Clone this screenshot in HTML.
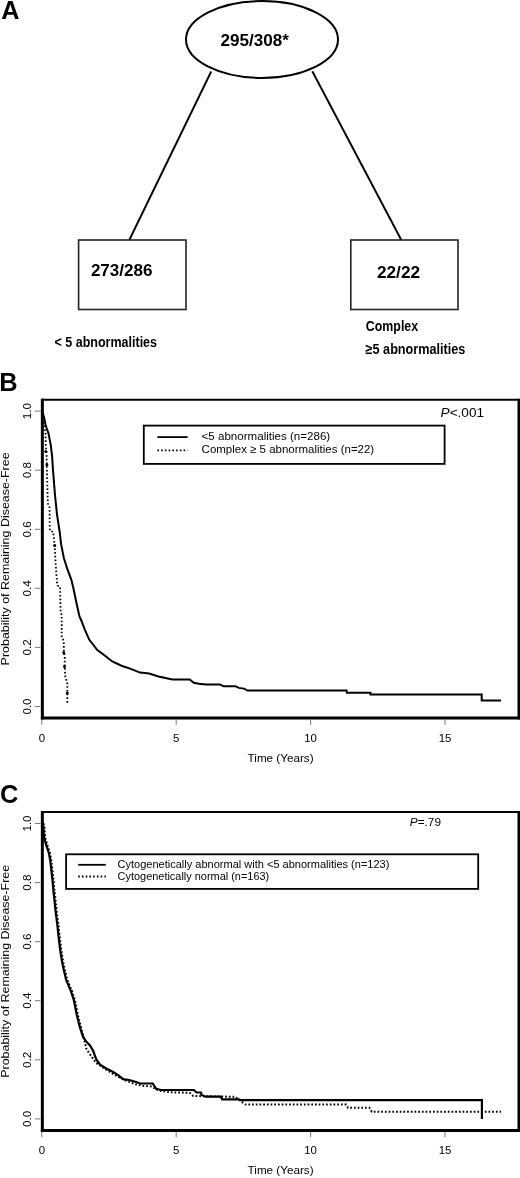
<!DOCTYPE html>
<html><head><meta charset="utf-8"><title>Figure</title>
<style>html,body{margin:0;padding:0;background:#fff;width:520px;height:1178px;overflow:hidden}svg{display:block}</style>
</head><body>
<svg width="520" height="1178" viewBox="0 0 520 1178" font-family="'Liberation Sans', Arial, sans-serif">
<rect width="520" height="1178" fill="#fff"/>
<text x="1.3" y="18.8" font-size="25.4" font-weight="bold" textLength="18.2" lengthAdjust="spacingAndGlyphs">A</text>
<ellipse cx="262" cy="39.5" rx="76" ry="38.4" fill="none" stroke="#000" stroke-width="2"/>
<text x="220.6" y="45.8" font-size="16.3" font-weight="bold" textLength="68.4" lengthAdjust="spacingAndGlyphs">295/308*</text>
<line x1="211.2" y1="71.5" x2="129.3" y2="240" stroke="#000" stroke-width="1.9"/>
<line x1="312.3" y1="71.3" x2="401.3" y2="240" stroke="#000" stroke-width="1.9"/>
<rect x="78.6" y="240" width="107.4" height="69.5" fill="none" stroke="#222" stroke-width="1.6"/>
<rect x="350.8" y="240" width="107.2" height="69.5" fill="none" stroke="#222" stroke-width="1.6"/>
<text x="90.9" y="275.8" font-size="16.2" font-weight="bold" textLength="61.6" lengthAdjust="spacingAndGlyphs">273/286</text>
<text x="376.9" y="277.8" font-size="16.2" font-weight="bold" textLength="43.2" lengthAdjust="spacingAndGlyphs">22/22</text>
<text x="54.6" y="347.2" font-size="15" font-weight="bold" textLength="102.4" lengthAdjust="spacingAndGlyphs">&lt; 5 abnormalities</text>
<text x="365.8" y="331.2" font-size="14.2" font-weight="bold" textLength="52.3" lengthAdjust="spacingAndGlyphs">Complex</text>
<text x="365.6" y="354.1" font-size="14.6" font-weight="bold" textLength="99.8" lengthAdjust="spacingAndGlyphs">≥5 abnormalities</text>
<text x="-0.7" y="391.4" font-size="25.4" font-weight="bold">B</text>
<line x1="41" y1="399.7" x2="519.5" y2="399.7" stroke="#000" stroke-width="2"/>
<line x1="518.8" y1="398.7" x2="518.8" y2="719.6" stroke="#000" stroke-width="2.6"/>
<line x1="42.35" y1="398.7" x2="42.35" y2="719.6" stroke="#000" stroke-width="3"/>
<line x1="40.85" y1="718.1" x2="519.6" y2="718.1" stroke="#000" stroke-width="3"/>
<line x1="35" y1="706.5" x2="40.5" y2="706.5" stroke="#777" stroke-width="1"/>
<text transform="translate(30.9,706.5) rotate(-90)" text-anchor="middle" font-size="11.6" textLength="16.2" lengthAdjust="spacingAndGlyphs">0.0</text>
<line x1="35" y1="647.4" x2="40.5" y2="647.4" stroke="#777" stroke-width="1"/>
<text transform="translate(30.9,647.4) rotate(-90)" text-anchor="middle" font-size="11.6" textLength="16.2" lengthAdjust="spacingAndGlyphs">0.2</text>
<line x1="35" y1="588.3" x2="40.5" y2="588.3" stroke="#777" stroke-width="1"/>
<text transform="translate(30.9,588.3) rotate(-90)" text-anchor="middle" font-size="11.6" textLength="16.2" lengthAdjust="spacingAndGlyphs">0.4</text>
<line x1="35" y1="529.3" x2="40.5" y2="529.3" stroke="#777" stroke-width="1"/>
<text transform="translate(30.9,529.3) rotate(-90)" text-anchor="middle" font-size="11.6" textLength="16.2" lengthAdjust="spacingAndGlyphs">0.6</text>
<line x1="35" y1="470.2" x2="40.5" y2="470.2" stroke="#777" stroke-width="1"/>
<text transform="translate(30.9,470.2) rotate(-90)" text-anchor="middle" font-size="11.6" textLength="16.2" lengthAdjust="spacingAndGlyphs">0.8</text>
<line x1="35" y1="411.1" x2="40.5" y2="411.1" stroke="#777" stroke-width="1"/>
<text transform="translate(30.9,411.1) rotate(-90)" text-anchor="middle" font-size="11.6" textLength="16.2" lengthAdjust="spacingAndGlyphs">1.0</text>
<line x1="41.8" y1="719.5" x2="41.8" y2="724.8" stroke="#777" stroke-width="1"/>
<text x="41.8" y="741.9" text-anchor="middle" font-size="11.4">0</text>
<line x1="176.2" y1="719.5" x2="176.2" y2="724.8" stroke="#777" stroke-width="1"/>
<text x="176.2" y="741.9" text-anchor="middle" font-size="11.4">5</text>
<line x1="310.6" y1="719.5" x2="310.6" y2="724.8" stroke="#777" stroke-width="1"/>
<text x="310.6" y="741.9" text-anchor="middle" font-size="11.4">10</text>
<line x1="445.0" y1="719.5" x2="445.0" y2="724.8" stroke="#777" stroke-width="1"/>
<text x="445.0" y="741.9" text-anchor="middle" font-size="11.4">15</text>
<text x="247.6" y="762.0" font-size="11.6" textLength="66" lengthAdjust="spacingAndGlyphs">Time (Years)</text>
<text transform="translate(9.3,558.9) rotate(-90)" text-anchor="middle" font-size="11.4" textLength="213" lengthAdjust="spacingAndGlyphs">Probability of Remaining Disease-Free</text>
<text x="440.6" y="417.2" font-size="13.4" textLength="43.4" lengthAdjust="spacingAndGlyphs"><tspan font-style="italic">P</tspan>&lt;.001</text>
<rect x="143.8" y="425.6" width="300.8" height="38.3" fill="none" stroke="#000" stroke-width="1.8"/>
<line x1="157.4" y1="437.1" x2="187.6" y2="437.1" stroke="#000" stroke-width="1.8"/>
<line x1="157.4" y1="450.3" x2="187.6" y2="450.3" stroke="#000" stroke-width="1.8" stroke-dasharray="1.6 2.14"/>
<text x="201.6" y="440.4" font-size="11.4" textLength="128.6" lengthAdjust="spacingAndGlyphs">&lt;5 abnormalities (n=286)</text>
<text x="201.6" y="452.9" font-size="11.4" textLength="172.6" lengthAdjust="spacingAndGlyphs">Complex ≥ 5 abnormalities (n=22)</text>
<polyline points="42.0,411.0 43.0,414.0 44.0,416.9 45.5,424.4 46.3,427.3 48.4,433.1 50.7,444.6 52.1,456.2 53.0,470.0 54.2,485.0 54.9,494.0 57.0,514.3 59.7,532.0 61.1,544.2 63.8,557.8 67.2,568.7 71.3,579.6 73.3,587.7 76.7,604.0 79.4,616.2 81.5,621.0 84.6,629.2 89.2,639.6 92.3,643.5 97.3,650.0 103.1,654.2 112.3,661.5 121.5,665.7 130.8,668.9 140.0,672.6 149.2,673.5 158.5,676.5 172.3,679.5 189.7,679.5 193.8,682.7 199.0,683.7 206.0,684.4 219.8,684.4 223.3,686.2 235.4,686.2 238.8,687.9 244.0,688.6 247.5,690.6 346.5,690.6 346.9,692.7 370.5,692.7 370.5,694.5 481.7,694.5 481.7,700.6 501.0,700.6" fill="none" stroke="#000" stroke-width="2"/>
<polyline points="42.0,411.0 44.0,424.4 45.5,433.1 45.8,444.6 46.6,456.2 46.8,465.4 47.5,492.6 47.9,503.5 49.5,506.2 49.8,530.7 53.2,532.0 54.7,545.6 55.6,563.3 57.0,582.3 57.7,585.7 60.1,587.0 60.4,602.7 60.7,612.1 61.7,615.0 61.7,636.4 63.8,641.1 63.8,652.8 64.8,656.0 64.6,666.4 65.4,677.6 67.3,682.2 67.3,704.0" fill="none" stroke="#000" stroke-width="1.8" stroke-dasharray="1.6 2.1"/>
<circle cx="45.8" cy="451.5" r="1.5"/>
<circle cx="46.9" cy="464.8" r="1.5"/>
<circle cx="54.7" cy="545.6" r="1.5"/>
<circle cx="63.8" cy="652.8" r="1.5"/>
<circle cx="64.5" cy="666.4" r="1.5"/>
<circle cx="67.3" cy="693" r="1.5"/>
<text x="0" y="802.6" font-size="25.4" font-weight="bold">C</text>
<line x1="41" y1="812.1" x2="519.5" y2="812.1" stroke="#000" stroke-width="2"/>
<line x1="518.8" y1="811.1" x2="518.8" y2="1132.0" stroke="#000" stroke-width="2.6"/>
<line x1="42.35" y1="811.1" x2="42.35" y2="1132.0" stroke="#000" stroke-width="3"/>
<line x1="40.85" y1="1130.5" x2="519.6" y2="1130.5" stroke="#000" stroke-width="3"/>
<line x1="35" y1="1118.9" x2="40.5" y2="1118.9" stroke="#777" stroke-width="1"/>
<text transform="translate(30.9,1118.9) rotate(-90)" text-anchor="middle" font-size="11.6" textLength="16.2" lengthAdjust="spacingAndGlyphs">0.0</text>
<line x1="35" y1="1059.8" x2="40.5" y2="1059.8" stroke="#777" stroke-width="1"/>
<text transform="translate(30.9,1059.8) rotate(-90)" text-anchor="middle" font-size="11.6" textLength="16.2" lengthAdjust="spacingAndGlyphs">0.2</text>
<line x1="35" y1="1000.7" x2="40.5" y2="1000.7" stroke="#777" stroke-width="1"/>
<text transform="translate(30.9,1000.7) rotate(-90)" text-anchor="middle" font-size="11.6" textLength="16.2" lengthAdjust="spacingAndGlyphs">0.4</text>
<line x1="35" y1="941.7" x2="40.5" y2="941.7" stroke="#777" stroke-width="1"/>
<text transform="translate(30.9,941.7) rotate(-90)" text-anchor="middle" font-size="11.6" textLength="16.2" lengthAdjust="spacingAndGlyphs">0.6</text>
<line x1="35" y1="882.6" x2="40.5" y2="882.6" stroke="#777" stroke-width="1"/>
<text transform="translate(30.9,882.6) rotate(-90)" text-anchor="middle" font-size="11.6" textLength="16.2" lengthAdjust="spacingAndGlyphs">0.8</text>
<line x1="35" y1="823.5" x2="40.5" y2="823.5" stroke="#777" stroke-width="1"/>
<text transform="translate(30.9,823.5) rotate(-90)" text-anchor="middle" font-size="11.6" textLength="16.2" lengthAdjust="spacingAndGlyphs">1.0</text>
<line x1="41.8" y1="1131.9" x2="41.8" y2="1137.2" stroke="#777" stroke-width="1"/>
<text x="41.8" y="1154.3" text-anchor="middle" font-size="11.4">0</text>
<line x1="176.2" y1="1131.9" x2="176.2" y2="1137.2" stroke="#777" stroke-width="1"/>
<text x="176.2" y="1154.3" text-anchor="middle" font-size="11.4">5</text>
<line x1="310.6" y1="1131.9" x2="310.6" y2="1137.2" stroke="#777" stroke-width="1"/>
<text x="310.6" y="1154.3" text-anchor="middle" font-size="11.4">10</text>
<line x1="445.0" y1="1131.9" x2="445.0" y2="1137.2" stroke="#777" stroke-width="1"/>
<text x="445.0" y="1154.3" text-anchor="middle" font-size="11.4">15</text>
<text x="247.6" y="1174.4" font-size="11.6" textLength="66" lengthAdjust="spacingAndGlyphs">Time (Years)</text>
<text transform="translate(9.3,971.3) rotate(-90)" text-anchor="middle" font-size="11.4" textLength="213" lengthAdjust="spacingAndGlyphs">Probability of Remaining Disease-Free</text>
<text x="409.8" y="825.6" font-size="11.4" textLength="31.2" lengthAdjust="spacingAndGlyphs"><tspan font-style="italic">P</tspan>=.79</text>
<rect x="66.1" y="854.3" width="412.1" height="34.6" fill="none" stroke="#000" stroke-width="1.8"/>
<line x1="78.2" y1="864.8" x2="105.8" y2="864.8" stroke="#000" stroke-width="1.8"/>
<line x1="78.2" y1="876.5" x2="105.8" y2="876.5" stroke="#000" stroke-width="1.8" stroke-dasharray="1.6 2.14"/>
<text x="117.6" y="868.1" font-size="10.2" textLength="271.8" lengthAdjust="spacingAndGlyphs">Cytogenetically abnormal with &lt;5 abnormalities (n=123)</text>
<text x="117.6" y="880" font-size="10.2" textLength="151.6" lengthAdjust="spacingAndGlyphs">Cytogenetically normal (n=163)</text>
<polyline points="43.4,823.4 44.4,826.0 44.9,835.0 45.6,839.0 47.6,845.8 50.1,853.5 51.4,861.0 52.3,868.8 53.6,880.4 54.6,892.0 55.3,897.7 56.9,913.0 58.4,924.6 59.6,936.0 61.5,951.5 63.4,963.0 64.9,970.0 67.3,980.0 71.9,990.8 74.9,1000.0 78.0,1015.4 81.1,1027.7 84.2,1040.0 86.5,1049.2 89.6,1053.8 93.4,1059.2 96.2,1063.1 100.0,1065.5 105.4,1069.2 116.9,1076.2 126.2,1080.8 135.4,1084.2 142.3,1085.8 151.5,1086.5 158.5,1090.5 170.0,1092.3 188.5,1092.8 190.4,1093.2 193.2,1096.0 235.4,1096.8 238.2,1099.4 245.8,1104.6 346.1,1104.6 348.0,1107.7 369.4,1107.7 371.8,1111.8 501.0,1111.8" fill="none" stroke="#000" stroke-width="2" stroke-dasharray="1.7 2"/>
<polyline points="42.3,823.4 43.3,826.0 43.8,835.0 44.5,839.0 46.5,845.8 49.0,853.5 50.3,861.0 51.2,868.8 52.5,880.4 53.5,892.0 54.2,897.7 55.8,913.0 57.3,924.6 58.5,936.0 60.4,951.5 62.3,963.0 63.8,970.0 66.2,980.0 70.8,990.8 73.8,1000.0 76.9,1015.4 80.0,1027.7 83.1,1036.9 86.2,1041.5 90.0,1045.4 93.1,1050.8 96.2,1059.2 100.0,1064.6 106.2,1068.5 112.3,1071.5 118.5,1075.4 123.1,1079.2 129.2,1080.0 136.9,1082.3 140.0,1083.5 152.7,1083.5 156.2,1088.8 160.8,1090.0 193.8,1090.0 196.6,1092.5 201.0,1092.5 201.5,1094.9 206.0,1096.7 220.8,1096.7 222.2,1099.4 238.8,1099.4 240.5,1100.1 481.9,1100.1 481.9,1119.1" fill="none" stroke="#000" stroke-width="2.2"/>
</svg>
</body></html>
